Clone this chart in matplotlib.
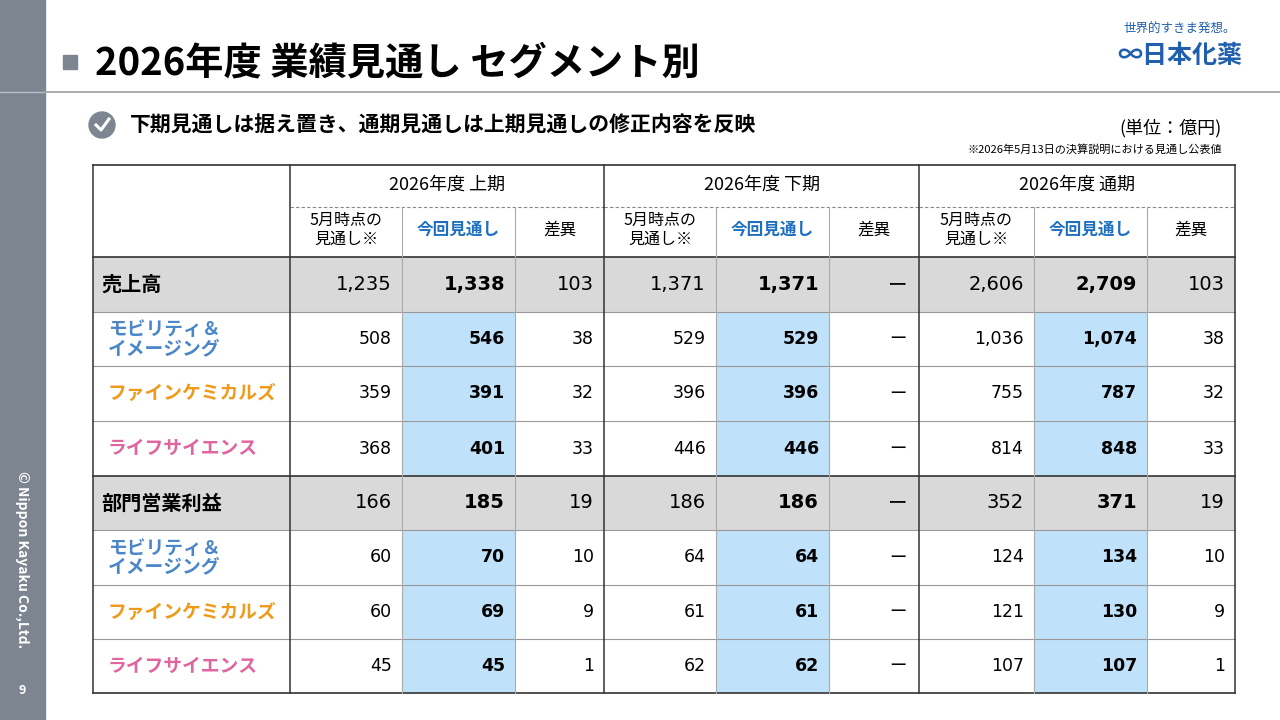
import matplotlib
matplotlib.use('Agg')
import matplotlib.pyplot as plt
from matplotlib.patches import Rectangle, Circle

plt.rcParams['font.family'] = ['Noto Sans CJK JP', 'DejaVu Sans']

# data
periods = ['2026年度 上期', '2026年度 下期', '2026年度 通期']
sub_heads = ['5月時点の\n見通し※', '今回見通し', '差異']
row_labels = ['売上高', 'モビリティ＆\nイメージング', 'ファインケミカルズ', 'ライフサイエンス',
              '部門営業利益', 'モビリティ＆\nイメージング', 'ファインケミカルズ', 'ライフサイエンス']
row_kind = ['total', 'mob', 'fine', 'life', 'total', 'mob', 'fine', 'life']
values = [
    ['1,235', '1,338', '103', '1,371', '1,371', 'ー', '2,606', '2,709', '103'],
    ['508', '546', '38', '529', '529', 'ー', '1,036', '1,074', '38'],
    ['359', '391', '32', '396', '396', 'ー', '755', '787', '32'],
    ['368', '401', '33', '446', '446', 'ー', '814', '848', '33'],
    ['166', '185', '19', '186', '186', 'ー', '352', '371', '19'],
    ['60', '70', '10', '64', '64', 'ー', '124', '134', '10'],
    ['60', '69', '9', '61', '61', 'ー', '121', '130', '9'],
    ['45', '45', '1', '62', '62', 'ー', '107', '107', '1'],
]

label_colors = {'total': 'black', 'mob': '#4a86c8', 'fine': '#f09a1a', 'life': '#e0659e'}

fig = plt.figure(figsize=(12.8, 7.2), dpi=100)
ax = fig.add_axes([0, 0, 1, 1])
ax.set_xlim(0, 1280)
ax.set_ylim(720, 0)
ax.axis('off')

# sidebar
ax.add_patch(Rectangle((0, 0), 45, 720, color='#7d8690'))
ax.plot([0, 45], [92, 92], color='#b8bec4', lw=1)
ax.text(22, 560, '© Nippon Kayaku Co.,Ltd.', rotation=-90, color='white', fontsize=10,
        fontweight='bold', ha='center', va='center')
ax.text(22, 690, '9', color='white', fontsize=9, fontweight='bold', ha='center', va='center')

# title
ax.add_patch(Rectangle((63, 55), 14, 14, color='#7d8690'))
ax.text(95, 63, '2026年度 業績見通し セグメント別', fontsize=27.5, fontweight='bold', va='center')
ax.plot([45, 1280], [92, 92], color='#9aa0a6', lw=1.2)

# logo
ax.text(1180, 29, '世界的すきま発想。', fontsize=9, color='#1f5fae', ha='center', va='center')
ax.text(1180, 56, '∞日本化薬', fontsize=18, fontweight='bold', color='#1f5fae', ha='center', va='center')

# subtitle
ax.add_patch(Circle((102, 125), 13, color='#7d8690'))
ax.plot([96, 101, 109], [125, 130, 119], color='white', lw=2.2)
ax.text(130, 125, '下期見通しは据え置き、通期見通しは上期見通しの修正内容を反映', fontsize=15,
        fontweight='bold', va='center')
ax.text(1222, 128, '(単位：億円)', fontsize=13, ha='right', va='center')
ax.text(1222, 150, '※2026年5月13日の決算説明における見通し公表値', fontsize=8, ha='right', va='center')

# table geometry
xs = [93, 290, 402, 515, 604, 716, 829, 919, 1034, 1147, 1235]
ys = [257, 312, 366, 421, 476, 530, 585, 639, 693]
top, mid = 165, 207

for i, kind in enumerate(row_kind):
    y0, y1 = ys[i], ys[i + 1]
    if kind == 'total':
        ax.add_patch(Rectangle((xs[0], y0), xs[-1] - xs[0], y1 - y0, color='#d9d9d9', lw=0))
    else:
        for g in range(3):
            c = 1 + g * 3 + 1
            ax.add_patch(Rectangle((xs[c], y0), xs[c + 1] - xs[c], y1 - y0, color='#bfe2fa', lw=0))

# header texts
for g, p in enumerate(periods):
    ax.text((xs[1 + 3 * g] + xs[4 + 3 * g]) / 2, 185, p, fontsize=13, ha='center', va='center')
    ax.plot([xs[1 + 3 * g], xs[4 + 3 * g]], [mid, mid], color='#888888', lw=0.8, ls=(0, (3, 2)))
    for k, s in enumerate(sub_heads):
        cx = (xs[1 + 3 * g + k] + xs[2 + 3 * g + k]) / 2
        if k == 1:
            ax.text(cx, 230, s, fontsize=12, fontweight='bold', color='#1f6fc0', ha='center', va='center')
        elif k == 0:
            ax.text(cx, 230, s, fontsize=11.5, ha='center', va='center', linespacing=1.1)
        else:
            ax.text(cx, 230, s, fontsize=12, ha='center', va='center')

# body texts
for i, kind in enumerate(row_labels):
    cy = (ys[i] + ys[i + 1]) / 2
    k = row_kind[i]
    if k == 'total':
        ax.text(101, cy, kind, fontsize=14.5, fontweight='bold', va='center')
    else:
        ax.text(108, cy, kind, fontsize=13.5, fontweight='bold', color=label_colors[k],
                va='center', linespacing=1.0)
    fs = 14 if k == 'total' else 12.5
    for j, v in enumerate(values[i]):
        rx = xs[j + 2] - 10
        bold = (j % 3 == 1)
        if v == 'ー':
            ax.text(rx - 2, cy, v, fontsize=fs, ha='right', va='center')
        else:
            ax.text(rx, cy, v, fontsize=fs, ha='right', va='center',
                    fontweight='bold' if bold else 'normal', family='DejaVu Sans')

# grid lines
dark = '#333333'
ax.plot([xs[0], xs[-1]], [top, top], color=dark, lw=1.2)
ax.plot([xs[0], xs[-1]], [ys[-1], ys[-1]], color=dark, lw=1.2)
for y in ys[1:-1]:
    thick = y == 476
    ax.plot([xs[0], xs[-1]], [y, y], color=dark if thick else '#999999', lw=1.2 if thick else 0.8)
ax.plot([xs[0], xs[-1]], [ys[0], ys[0]], color=dark, lw=1.2)
for x in xs:
    if x in (93, 290, 604, 919, 1235):
        ax.plot([x, x], [top, ys[-1]], color=dark, lw=1.1)
    else:
        ax.plot([x, x], [mid, ys[-1]], color='#aaaaaa', lw=0.8)

fig.savefig('out.png', dpi=100)
